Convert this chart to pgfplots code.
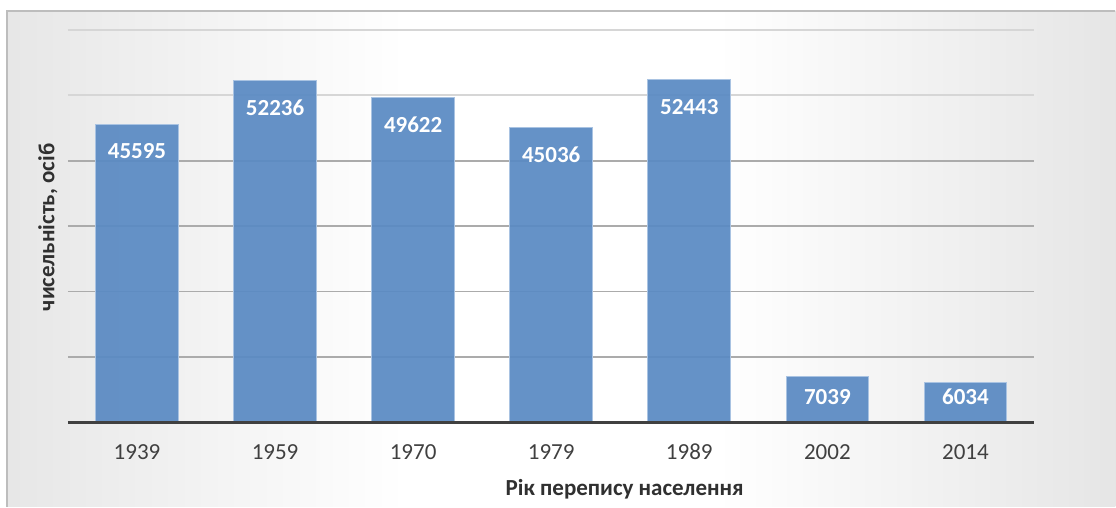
\documentclass[border=0pt]{standalone}
\usepackage{fontspec}
\setmainfont{Carlito}
\usepackage{pgfplots}
\pgfplotsset{compat=1.18}
\definecolor{barblue}{HTML}{5A8AC3}
\definecolor{baredge}{HTML}{A9C3E2}
\definecolor{axisgray}{HTML}{404040}
\definecolor{titlegray}{HTML}{303030}
\definecolor{gridA}{HTML}{ABABAB}
\definecolor{gridB}{HTML}{D6D6D6}
\definecolor{bgL}{HTML}{C5C5C5}
\definecolor{bgR}{HTML}{C2C2C2}
\definecolor{framec}{HTML}{BDBDBD}
\pgfdeclarehorizontalshading{bgshade}{100bp}{color(0bp)=(bgL); color(43bp)=(white); color(57bp)=(white); color(100bp)=(bgR)}
\pgfplotsset{mybar/.style={ybar, bar width=41.3pt, bar shift=0pt, fill=barblue,
  fill opacity=0.93, draw=baredge, line width=0.5pt}}
\begin{document}
\begin{tikzpicture}[x=0.5pt, y=0.5pt, font=\fontsize{11.5}{13.8}\selectfont]
  \fill[white] (0,0) rectangle (1116,507);
  \shade[shading=bgshade] (7,0) rectangle (1116,496);
  \draw[framec, line width=0.6pt] (7,0) -- (7,496) -- (1116,496);
  \begin{axis}[at={(34pt,42.3pt)}, anchor=south west, scale only axis,
      width=483.5pt, height=196.2pt,
      xmin=-0.5, xmax=6.5, ymin=0, ymax=60000, scaled y ticks=false,
      xtick={0,...,6}, xticklabels={1939,1959,1970,1979,1989,2002,2014},
      ytick={50000,60000}, yticklabels={},
      extra y ticks={10000,20000,30000,40000}, extra y tick labels={},
      extra y tick style={grid=major, major grid style={gridA, line width=0.9pt}},
      ymajorgrids, grid style={gridB, line width=0.9pt},
      axis line style={draw=none}, major tick length=0pt, tick style={draw=none},
      xticklabel style={anchor=center, yshift=-15pt, text=axisgray},
      clip=false,
      nodes near coords, point meta=explicit symbolic,
      every node near coord/.append style={font=\fontsize{11.5}{13.8}\selectfont\bfseries,
        text=white, anchor=center, text opacity=1}]
    \addplot[mybar, every node near coord/.append style={yshift=-13.7pt}] coordinates
      {(0,45595) [45595] (1,52236) [52236] (2,49622) [49622] (3,45036) [45036] (4,52443) [52443]};
    \addplot[mybar, every node near coord/.append style={yshift=-10.2pt}] coordinates
      {(5,7039) [7039]};
    \addplot[mybar, every node near coord/.append style={yshift=-6.9pt}] coordinates
      {(6,6034) [6034]};
    \draw[axisgray, line width=1.6pt] (rel axis cs:0,0) -- (rel axis cs:1,0);
  \end{axis}
  \node[font=\fontsize{11.5}{13.8}\selectfont\bfseries, text=titlegray] at (625,17)
    {Рік перепису населення};
  \node[font=\fontsize{11.5}{13.8}\selectfont\bfseries, text=titlegray, rotate=90] at (48,279.5)
    {чисельність, осіб};
\end{tikzpicture}
\end{document}
